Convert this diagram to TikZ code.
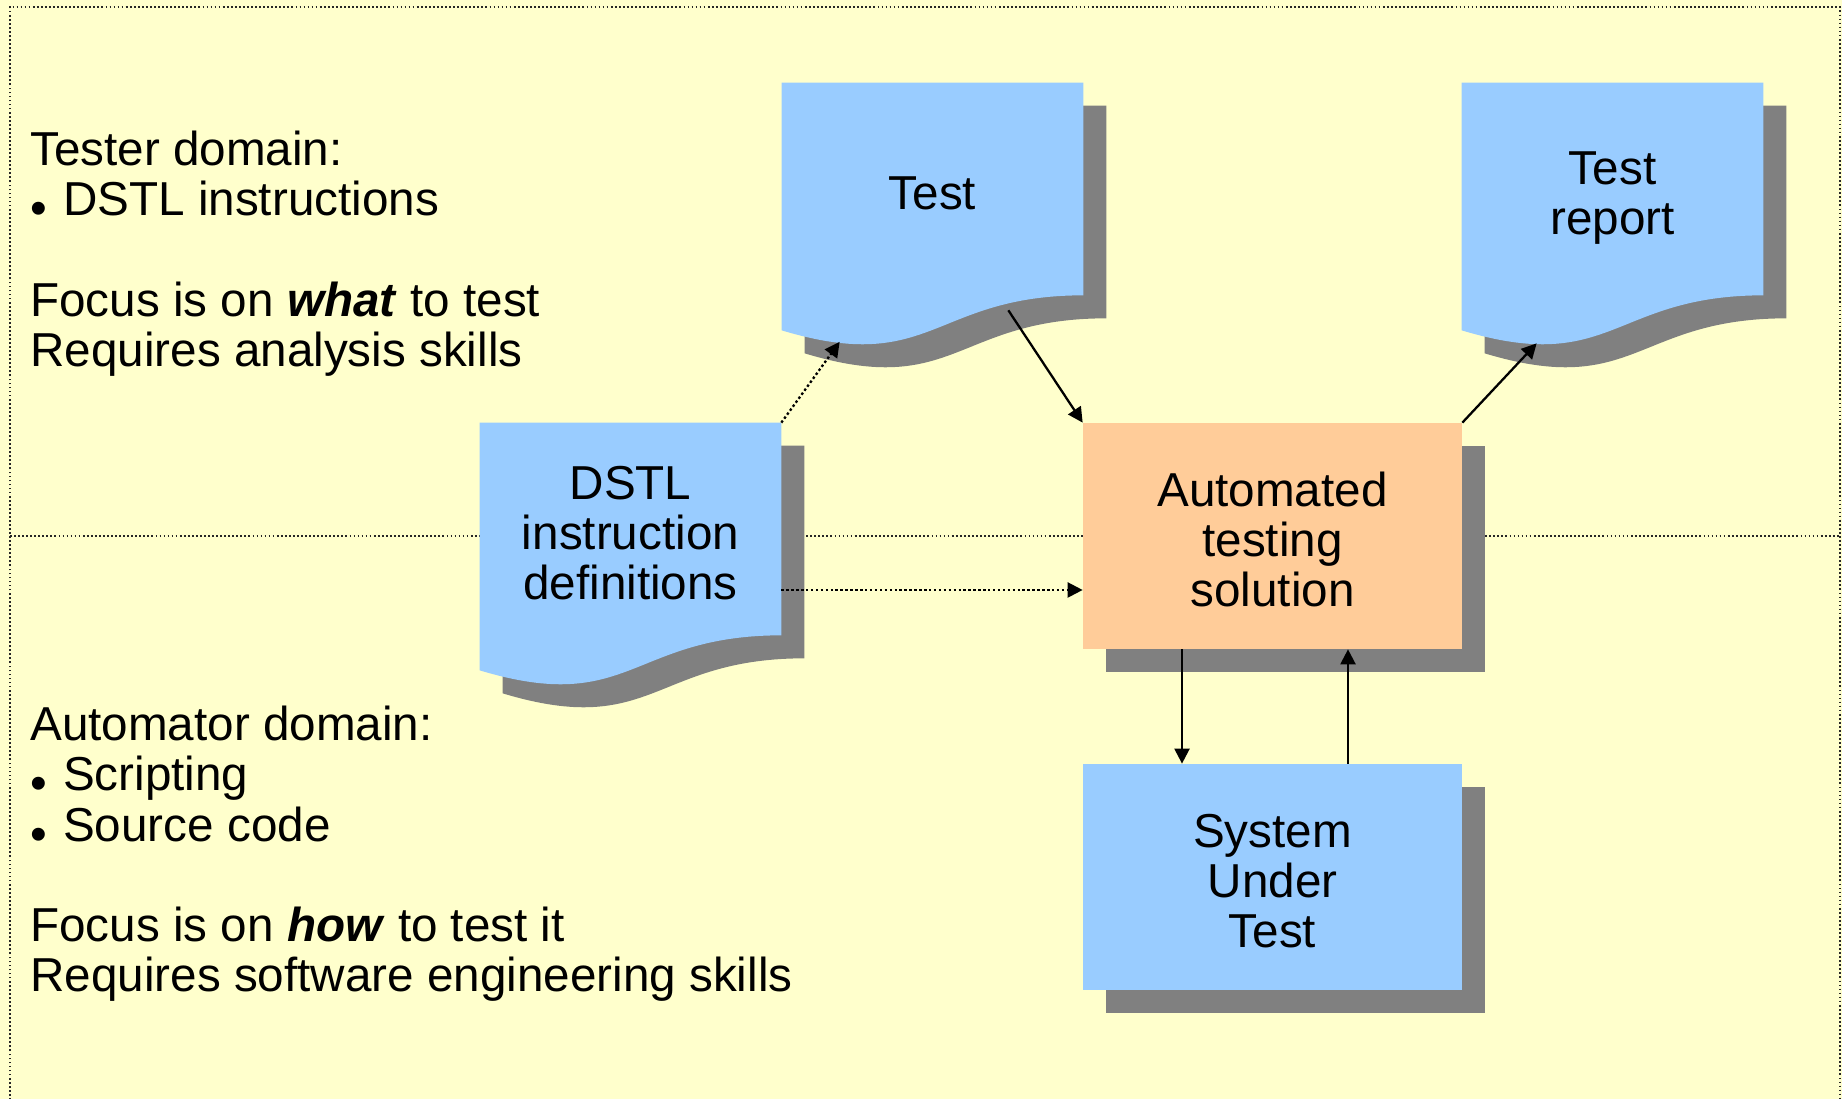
\documentclass[tikz,border=0pt]{standalone}
\usepackage{fontspec}
\setmainfont{Liberation Sans}
\usepackage{tikz}
\usetikzlibrary{arrows.meta,positioning,calc,backgrounds,shadows}

\definecolor{paper}{HTML}{FFFFCC}
\definecolor{docblue}{HTML}{99CCFF}
\definecolor{boxorange}{HTML}{FFCC99}
\definecolor{shadowgray}{HTML}{808080}

% page outline with a wavy lower edge, hung below a node: #1 node, #2 offset
\newcommand{\docoutline}[2]{%
  ($(#1.north west)+(#2)$) -- ($(#1.north east)+(#2)$) -- ($(#1.south east)+(#2)$)
  .. controls ($(#1.south)+(#2)$) and ($(#1.south)+(#2)+(0,-1.61)$)
  .. ($(#1.south west)+(#2)+(0,-0.7)$) -- cycle}

% small bullet in front of list lines
\newcommand{\itemdot}{\makebox[0.69em][l]{\raisebox{-0.19em}{•}}}
% fixed height for the first line of a centred label
\newcommand{\topline}{\rule{0pt}{0.85em}}

\begin{document}
\begin{tikzpicture}[
  doc/.style={rectangle, minimum width=6.02cm, minimum height=4.24cm, inner sep=0pt, align=center, text depth=0pt},
  block/.style={rectangle, fill=#1, minimum width=7.58cm, minimum height=4.52cm, inner sep=0pt, align=center, text depth=0pt,
    drop shadow={shadow xshift=0.46cm, shadow yshift=-0.46cm, fill=shadowgray, opacity=1}},
  note/.style={anchor=north west, inner sep=0pt, align=left},
  flow/.style={-{Triangle[length=0.3cm, width=0.3cm]}, line width=1.3pt},
  link/.style={flow, dash pattern=on 1.4pt off 1.4pt},
  rule/.style={black!85, line width=0.8pt, dash pattern=on 1pt off 1.3pt},
  font=\fontsize{27.1}{28.5}\selectfont
]
  \useasboundingbox (0,0) rectangle (36.84,21.98);

  % Documents
  \node[doc] (test) at (18.65, 18.2) {\topline Test};
  \node[doc] (report) at (32.25, 18.2) {\topline Test\\report};
  \node[doc] (dstl) at (12.61, 11.4) {\topline DSTL\\instruction\\definitions};

  % Boxes
  \node[block=boxorange] (auto) at (25.45, 11.26) {\topline Automated\\testing\\solution};
  \node[block=docblue] (sut) at (25.45, 4.44) {\topline System\\Under\\Test};

  % Side notes
  \node[note] (tester) at (0.6, 19.36)
    {Tester domain:\\ \itemdot DSTL instructions\\[1cm]
     Focus is on \textbf{\textit{what}} to test\\ Requires analysis skills};
  \node[note] (automator) at (0.6, 7.86)
    {Automator domain:\\ \itemdot Scripting\\ \itemdot Source code\\[1cm]
     Focus is on \textbf{\textit{how}} to test it\\ Requires software engineering skills};

  % Points on the wavy edges
  \coordinate (test-in) at ($(test.south west)+(1.16,-0.93)$);
  \coordinate (test-out) at ($(test.south east)+(-1.5,-0.3)$);
  \coordinate (report-in) at ($(report.south west)+(1.5,-0.96)$);
  \coordinate (dstl-out) at ($(dstl.east)+(0,-1.22)$);

  \begin{scope}[on background layer]
    \fill[paper] (0,0) rectangle (36.84,21.98);
    \draw[rule] (0.2,-0.5) -- (0.2,21.84) -- (36.8,21.84) -- (36.8,-0.5);
    \draw[rule] (0.2,11.26) -- (36.8,11.26);
    \foreach \d in {test, report, dstl} {
      \fill[shadowgray] \docoutline{\d}{0.46,-0.46};
      \fill[docblue] \docoutline{\d}{0,0};
    }
  \end{scope}

  % Connectors
  \draw[link] (dstl.north east) -- (test-in);
  \draw[flow] (test-out) -- (auto.north west);
  \draw[flow] (auto.north east) -- (report-in);
  \draw[link] (dstl-out) -- (dstl-out -| auto.west);
  \draw[flow] ([xshift=-1.81cm]auto.south) -- ([xshift=-1.81cm]sut.north);
  \draw[flow] ([xshift=1.51cm]sut.north) -- ([xshift=1.51cm]auto.south);
\end{tikzpicture}
\end{document}
